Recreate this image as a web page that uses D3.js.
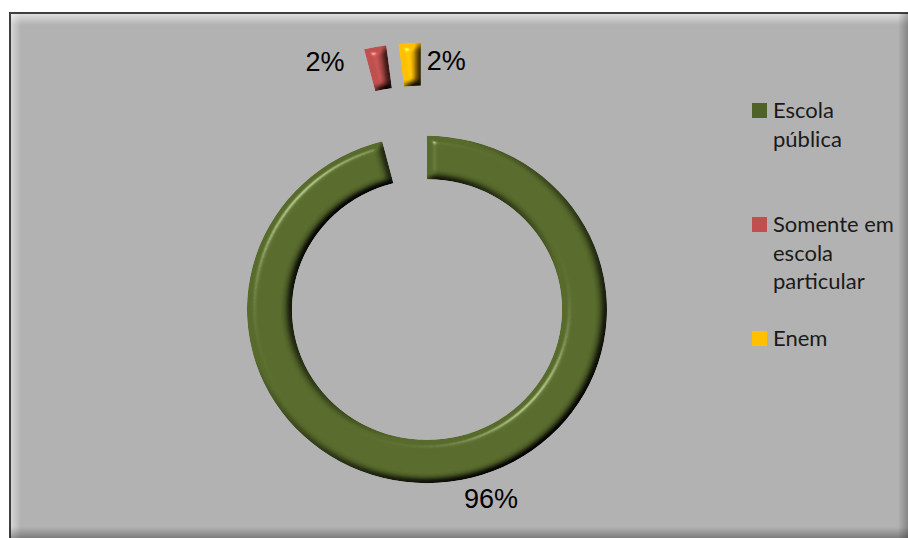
<!DOCTYPE html>
<html>
<head>
<meta charset="utf-8">
<script src="https://cdn.jsdelivr.net/npm/d3@7"></script>
<style>
  html, body { margin: 0; padding: 0; background: #fff; }
  svg { display: block; }
</style>
</head>
<body>
<div id="chart"></div>
<script>
// data
const categories = ['Escola pública', 'Somente em escola particular', 'Enem'];
const values = [96, 2, 2];
const labels = ['96%', '2%', '2%'];
const colors = ['#586a2c', '#c0504d', '#ffc000'];
const legendColors = ['#4f6228', '#c0504d', '#ffc000'];
const exploded = [false, true, true];

const width = 908, height = 538;
const cx = 427, cy = 309.5;
const outerR = 180, innerR = 135, squash = 0.965;
const explodeBy = 97;

const svg = d3.select('#chart').append('svg')
  .attr('width', width)
  .attr('height', height);

const defs = svg.append('defs');

// bevel-ish lighting for the slices
const f = defs.append('filter').attr('id', 'bevel')
  .attr('x', '-20%').attr('y', '-20%').attr('width', '140%').attr('height', '140%')
  .attr('color-interpolation-filters', 'sRGB');
f.append('feGaussianBlur').attr('in', 'SourceAlpha').attr('stdDeviation', 4).attr('result', 'b');
f.append('feDiffuseLighting').attr('in', 'b').attr('surfaceScale', 6)
  .attr('diffuseConstant', 1.3).attr('lighting-color', '#fff').attr('result', 'd')
  .append('feDistantLight').attr('azimuth', 225).attr('elevation', 50);
f.append('feComposite').attr('in', 'SourceGraphic').attr('in2', 'd')
  .attr('operator', 'arithmetic').attr('k1', 1).attr('k2', 0).attr('k3', 0).attr('k4', 0)
  .attr('result', 'lit');
f.append('feSpecularLighting').attr('in', 'b').attr('surfaceScale', 6)
  .attr('specularConstant', 0.35).attr('specularExponent', 60).attr('lighting-color', '#fff')
  .attr('result', 's')
  .append('feDistantLight').attr('azimuth', 225).attr('elevation', 50);
f.append('feComposite').attr('in', 's').attr('in2', 'SourceAlpha').attr('operator', 'in').attr('result', 's2');
f.append('feComposite').attr('in', 'lit').attr('in2', 's2')
  .attr('operator', 'arithmetic').attr('k1', 0).attr('k2', 1).attr('k3', 1).attr('k4', 0)
  .attr('result', 'out');
f.append('feComposite').attr('in', 'out').attr('in2', 'SourceAlpha').attr('operator', 'in');

function grad(id, x1, y1, x2, y2, stops) {
  const g = defs.append('linearGradient').attr('id', id)
    .attr('x1', x1).attr('y1', y1).attr('x2', x2).attr('y2', y2);
  stops.forEach(s => g.append('stop').attr('offset', s[0]).attr('stop-color', s[1]).attr('stop-opacity', s[2]));
}
grad('gTop', 0, 0, 0, 1, [[0, '#fff', 0.55], [1, '#fff', 0]]);
grad('gLeft', 0, 0, 1, 0, [[0, '#fff', 0.45], [1, '#fff', 0]]);
grad('gBottom', 0, 0, 0, 1, [[0, '#000', 0], [1, '#000', 0.3]]);
grad('gRight', 0, 0, 1, 0, [[0, '#000', 0], [1, '#000', 0.25]]);

// chart frame
const fx = 10, fy = 13, fw = 905, fh = 535;
svg.append('rect').attr('x', fx).attr('y', fy).attr('width', fw).attr('height', fh)
  .attr('fill', '#b2b2b2').attr('stroke', '#3f3f3f').attr('stroke-width', 2);
svg.append('rect').attr('x', fx + 1).attr('y', fy + 1).attr('width', fw).attr('height', 11).attr('fill', 'url(#gTop)');
svg.append('rect').attr('x', fx + 1).attr('y', fy + 1).attr('width', 10).attr('height', fh).attr('fill', 'url(#gLeft)');
svg.append('rect').attr('x', fx).attr('y', 527).attr('width', fw).attr('height', 11).attr('fill', 'url(#gBottom)');
svg.append('rect').attr('x', 898).attr('y', fy).attr('width', 10).attr('height', fh).attr('fill', 'url(#gRight)');

// donut
const pie = d3.pie().sort(null).value(d => d)(values);
const arc = d3.arc().innerRadius(innerR).outerRadius(outerR);
const mid = d => (d.startAngle + d.endAngle) / 2;

const ring = svg.append('g')
  .attr('transform', `translate(${cx},${cy}) scale(1,${squash})`);

ring.selectAll('path.slice')
  .data(pie)
  .join('path')
  .attr('class', 'slice')
  .attr('d', arc)
  .attr('fill', (d, i) => colors[i])
  .attr('filter', 'url(#bevel)')
  .attr('transform', (d, i) => {
    if (!exploded[i]) return null;
    const a = mid(d);
    return `translate(${explodeBy * Math.sin(a)},${-explodeBy * Math.cos(a)})`;
  });

// data labels
const labelFont = '"Liberation Sans", Arial, sans-serif';
const lbl = svg.append('g').attr('font-family', labelFont).attr('font-size', 27).attr('fill', '#000');
pie.forEach((d, i) => {
  let x, y, anchor;
  if (exploded[i]) {
    // outside the exploded slice, on its free side
    const a = mid(d);
    const r = outerR + explodeBy - 18;
    const side = i === 1 ? -1 : 1;
    x = cx + r * Math.sin(a) + (side < 0 ? -34 : 16);
    y = cy - r * Math.cos(a) * squash + (side < 0 ? 7 : 10);
    anchor = side < 0 ? 'end' : 'start';
  } else {
    const a = mid(d) - 0.19;
    const r = outerR + 26;
    x = cx + r * Math.sin(a);
    y = cy - r * Math.cos(a) * squash + 10;
    anchor = 'middle';
  }
  lbl.append('text').attr('x', x).attr('y', y).attr('text-anchor', anchor).text(labels[i]);
});

// legend
const legend = svg.append('g').attr('transform', 'translate(752,103)')
  .attr('font-family', 'Lato, "Open Sans", sans-serif').attr('font-size', 22).attr('fill', '#1a1a1a');
const wrapW = 130, lineH = 28.5, step = 114;
categories.forEach((c, i) => {
  const g = legend.append('g').attr('transform', `translate(0,${i * step})`);
  g.append('rect').attr('width', 15).attr('height', 15).attr('fill', legendColors[i]);
  const t = g.append('text').attr('x', 21).attr('y', 15);
  const words = c.split(' ');
  let line = [], tspan = t.append('tspan').attr('x', 21).attr('dy', 0);
  words.forEach(w => {
    line.push(w);
    tspan.text(line.join(' '));
    if (tspan.node().getComputedTextLength() > wrapW && line.length > 1) {
      line.pop();
      tspan.text(line.join(' '));
      line = [w];
      tspan = t.append('tspan').attr('x', 21).attr('dy', lineH).text(w);
    }
  });
});
</script>
</body>
</html>
